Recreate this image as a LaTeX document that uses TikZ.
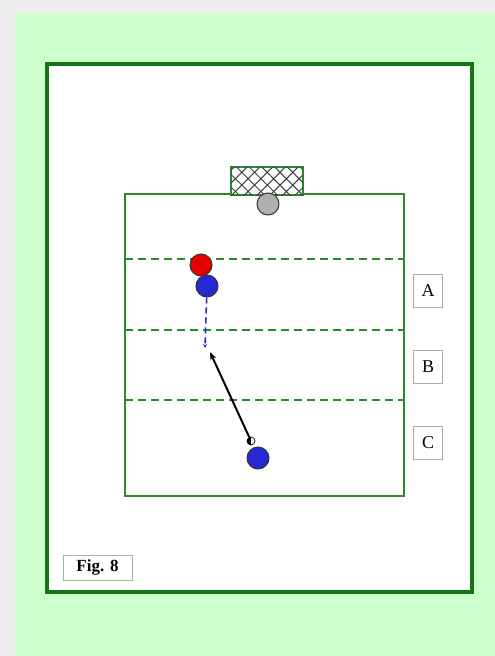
\documentclass[tikz,border=0pt]{standalone}
\usepackage{fontspec}
\setmainfont{Liberation Serif}
\usetikzlibrary{arrows.meta, positioning, patterns.meta}
\definecolor{pagegray}{RGB}{238, 236, 236}
\definecolor{panelgreen}{RGB}{204, 255, 204}
\definecolor{framegreen}{RGB}{ 20, 115,  20}
\definecolor{linegreen}{RGB}{ 40, 140,  40}
\definecolor{teamblue}{RGB}{ 40,  40, 210}
\definecolor{teamred}{RGB}{230,   0,   0}
\definecolor{keepergray}{RGB}{175, 175, 175}
\definecolor{boxgray}{RGB}{170, 175, 170}

\begin{document}
\begin{tikzpicture}[x=1pt, y=-1pt,
  frame/.style={draw=framegreen, line width=3.5pt, fill=white},
  pitch/.style={draw=linegreen, line width=2pt},
  zoneline/.style={draw=linegreen, line width=1.4pt, dash pattern=on 8pt off 5pt},
  goal/.style={draw=linegreen, line width=1.8pt, fill=white,
               minimum width=72pt, minimum height=28pt, inner sep=0pt,
               postaction={pattern={Lines[angle=45, distance=9pt, line width=1pt]}, pattern color=black!75},
               postaction={pattern={Lines[angle=-45, distance=9pt, line width=1pt]}, pattern color=black!75}},
  player/.style={circle, draw=black!80, line width=1pt, minimum size=22pt, inner sep=0pt},
  ball/.style={circle, draw=black, line width=0.7pt, fill=white, minimum size=8pt, inner sep=0pt,
               path picture={\fill[black] (path picture bounding box.south west) rectangle (path picture bounding box.north);}},
  zonebox/.style={draw=boxgray, line width=0.6pt, fill=white, minimum width=29pt, minimum height=33pt,
                  inner sep=0pt, font=\fontsize{18}{20}\selectfont},
  figbox/.style={draw=boxgray, line width=0.6pt, fill=white, minimum width=69pt, minimum height=25pt,
                 inner sep=0pt, font=\fontsize{17}{19}\selectfont\bfseries},
  run/.style={-{Stealth[length=4pt, width=4pt]}, draw=teamblue, line width=1.6pt, dash pattern=on 6pt off 4pt},
  pass/.style={-{Stealth[length=8pt, width=6pt]}, draw=black, line width=2pt}
]
  % page and panel
  \fill[pagegray] (0,0) rectangle (495,656);
  \fill[panelgreen] (15,13) rectangle (495,656);
  \draw[frame] (47,64) rectangle (472,592);

  % field and zones
  \draw[pitch] (125,194) rectangle (404,496);
  \foreach \dy in {259,330,400}
    \draw[zoneline] (125,\dy) -- (404,\dy);
  \node[goal] (net) at (267,181) {};

  % players
  \node[player, fill=keepergray] (keeper) at (268,204) {};
  \node[player, fill=teamred] (defender) at (201,265) {};
  \node[player, fill=teamblue] (attacker) at (207,286) {};
  \node[player, fill=teamblue] (passer) at (258,458) {};
  \node[ball] (football) at (251,441) {};

  % movement
  \coordinate (runend) at (205,348);
  \coordinate (passend) at (210,352);
  \draw[run] (attacker) -- (runend);
  \draw[pass] (football) -- (passend);

  % zone labels
  \foreach \zy/\zl in {291/A,367/B,443/C}
    \node[zonebox] (zone\zl) at (428,\zy) {\zl};

  \node[figbox] (figlabel) at (97.5,567.5) {Fig. 8};
\end{tikzpicture}
\end{document}
